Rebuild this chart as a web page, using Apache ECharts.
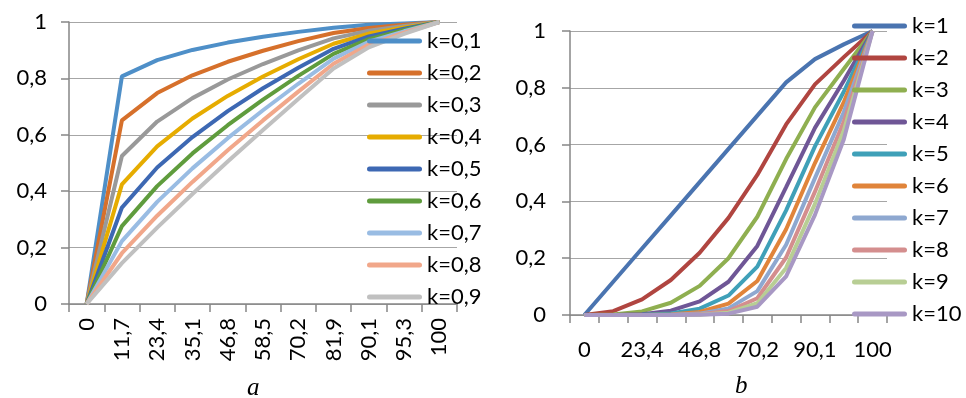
<!DOCTYPE html>
<html><head><meta charset="utf-8">
<script src="https://cdn.jsdelivr.net/npm/echarts@6/dist/echarts.min.js"></script>
<style>html,body{margin:0;padding:0;background:#fff}#c{width:966px;height:398px}</style>
</head><body><div id="c"></div>
<script>
// x categories (tick labels)
const categories = ['0','11,7','23,4','35,1','46,8','58,5','70,2','81,9','90,1','95,3','100'];
const yTicks = [0, 0.2, 0.4, 0.6, 0.8, 1];

// panel a
const leftNames = ['k=0,1','k=0,2','k=0,3','k=0,4','k=0,5','k=0,6','k=0,7','k=0,8','k=0,9'];
const k01 = [0, 0.807, 0.865, 0.901, 0.927, 0.948, 0.965, 0.980, 0.990, 0.995, 1];
const k02 = [0, 0.651, 0.748, 0.811, 0.859, 0.898, 0.932, 0.961, 0.979, 0.990, 1];
const k03 = [0, 0.525, 0.647, 0.730, 0.796, 0.851, 0.899, 0.942, 0.969, 0.986, 1];
const k04 = [0, 0.424, 0.559, 0.658, 0.738, 0.807, 0.868, 0.923, 0.959, 0.981, 1];
const k05 = [0, 0.342, 0.484, 0.592, 0.684, 0.765, 0.838, 0.905, 0.949, 0.976, 1];
const k06 = [0, 0.276, 0.418, 0.534, 0.634, 0.725, 0.809, 0.887, 0.939, 0.972, 1];
const k07 = [0, 0.223, 0.362, 0.481, 0.588, 0.687, 0.781, 0.870, 0.930, 0.967, 1];
const k08 = [0, 0.180, 0.313, 0.433, 0.545, 0.651, 0.753, 0.852, 0.920, 0.962, 1];
const k09 = [0, 0.145, 0.271, 0.390, 0.505, 0.617, 0.727, 0.835, 0.910, 0.958, 1];
const leftData = [k01,k02,k03,k04,k05,k06,k07,k08,k09];
const leftColors = ['#4E8FC8','#D6702B','#999999','#E6AC00','#3D68B3','#5F9C3D','#99BCE3','#F1A78A','#C0C0C0'];

// panel b
const rightNames = ['k=1','k=2','k=3','k=4','k=5','k=6','k=7','k=8','k=9','k=10'];
const k1  = [0, 0.117, 0.234, 0.351, 0.468, 0.585, 0.702, 0.819, 0.901, 0.953, 1];
const k2  = [0, 0.0137, 0.0548, 0.1232, 0.219, 0.342, 0.493, 0.671, 0.812, 0.908, 1];
const k3  = [0, 0.0016, 0.0128, 0.0432, 0.1025, 0.200, 0.346, 0.549, 0.731, 0.866, 1];
const k4  = [0, 0.0002, 0.0030, 0.0152, 0.0480, 0.117, 0.243, 0.450, 0.659, 0.825, 1];
const k5  = [0, 0.0000, 0.0007, 0.0053, 0.0224, 0.0685, 0.1705, 0.3685, 0.5938, 0.7861, 1];
const k6  = [0, 0.0000, 0.0002, 0.0019, 0.0105, 0.0401, 0.1197, 0.3018, 0.5350, 0.7492, 1];
const k7  = [0, 0.0000, 0.0000, 0.0007, 0.0049, 0.0234, 0.0840, 0.2472, 0.4820, 0.7140, 1];
const k8  = [0, 0.0000, 0.0000, 0.0002, 0.0023, 0.0137, 0.0590, 0.2024, 0.4343, 0.6804, 1];
const k9  = [0, 0.0000, 0.0000, 0.0001, 0.0011, 0.0080, 0.0414, 0.1658, 0.3913, 0.6485, 1];
const k10 = [0, 0.0000, 0.0000, 0.0000, 0.0005, 0.0047, 0.0291, 0.1358, 0.3525, 0.6180, 1];
const rightData = [k1,k2,k3,k4,k5,k6,k7,k8,k9,k10];
const rightColors = ['#4A74B0','#B04540','#8FAF50','#6F5696','#3FA0B8','#E0843A','#8EA8D0','#D48E8E','#B8CE94','#A898C4'];

const FONT = 'Lato, "Open Sans", sans-serif';
const capsule = 'path://M2.5,0 L52.5,0 A2.5,2.5 0 0 1 52.5,5 L2.5,5 A2.5,2.5 0 0 1 2.5,0 Z';
const fmt = v => String(Math.round(v*10)/10).replace('.', ',');

function xAxis(gi, rotate, interval, margin) {
  return {
    type: 'category', gridIndex: gi, data: categories, boundaryGap: true,
    axisLine: {lineStyle: {color: '#868686', width: 1.5}},
    axisTick: {show: true, length: 8, interval: 0, alignWithLabel: false, lineStyle: {color: '#868686', width: 1.5}},
    axisLabel: {rotate: rotate, interval: interval, margin: margin, color: '#000', fontSize: 22, fontFamily: FONT},
    splitLine: {show: false}
  };
}
function yAxis(gi, margin) {
  return {
    type: 'value', gridIndex: gi, min: 0, max: 1, interval: 0.2,
    axisLine: {show: true, lineStyle: {color: '#868686', width: 1.5}},
    axisTick: {show: true, length: 8, lineStyle: {color: '#868686', width: 1.5}},
    axisLabel: {formatter: fmt, margin: margin, color: '#000', fontSize: 22, fontFamily: FONT},
    splitLine: {lineStyle: {color: '#A6A6A6', width: 1.2}}
  };
}

const series = [];
leftData.forEach((d, i) => series.push({
  name: leftNames[i], type: 'line', xAxisIndex: 0, yAxisIndex: 0, data: d,
  symbol: 'none', lineStyle: {width: 4, color: leftColors[i]}, itemStyle: {color: leftColors[i]}, z: 2
}));
rightData.forEach((d, i) => series.push({
  name: rightNames[i], type: 'line', xAxisIndex: 1, yAxisIndex: 1, data: d,
  symbol: 'none', lineStyle: {width: 4, color: rightColors[i]}, itemStyle: {color: rightColors[i]}, z: 2
}));

const legendCommon = {
  orient: 'vertical', icon: capsule, itemWidth: 55, itemHeight: 5, itemGap: 10, itemTextGap: 4,
  textStyle: {fontSize: 22, lineHeight: 22, color: '#000', fontFamily: FONT},
  selectedMode: false, padding: 0
};

const chart = echarts.init(document.getElementById('c'), null, {renderer: 'canvas'});
chart.setOption({
  animation: false,
  backgroundColor: '#fff',
  grid: [
    {left: 69, top: 22, width: 388, height: 282},
    {left: 570, top: 31, width: 317, height: 284}
  ],
  xAxis: [xAxis(0, 90, 0, 14), xAxis(1, 0, 1, 24)],
  yAxis: [yAxis(0, 22), yAxis(1, 24)],
  legend: [
    Object.assign({}, legendCommon, {data: leftNames, left: 367, top: 30}),
    Object.assign({}, legendCommon, {data: rightNames, left: 852, top: 15})
  ],
  title: [
    {text: 'a', left: 247, top: 376, padding: 0, textStyle: {fontFamily: '"Liberation Serif", serif', fontStyle: 'italic', fontWeight: 'normal', fontSize: 25, color: '#000'}},
    {text: 'b', left: 735, top: 374, padding: 0, textStyle: {fontFamily: '"Liberation Serif", serif', fontStyle: 'italic', fontWeight: 'normal', fontSize: 25, color: '#000'}}
  ],
  series: series
});
</script>
</body></html>
